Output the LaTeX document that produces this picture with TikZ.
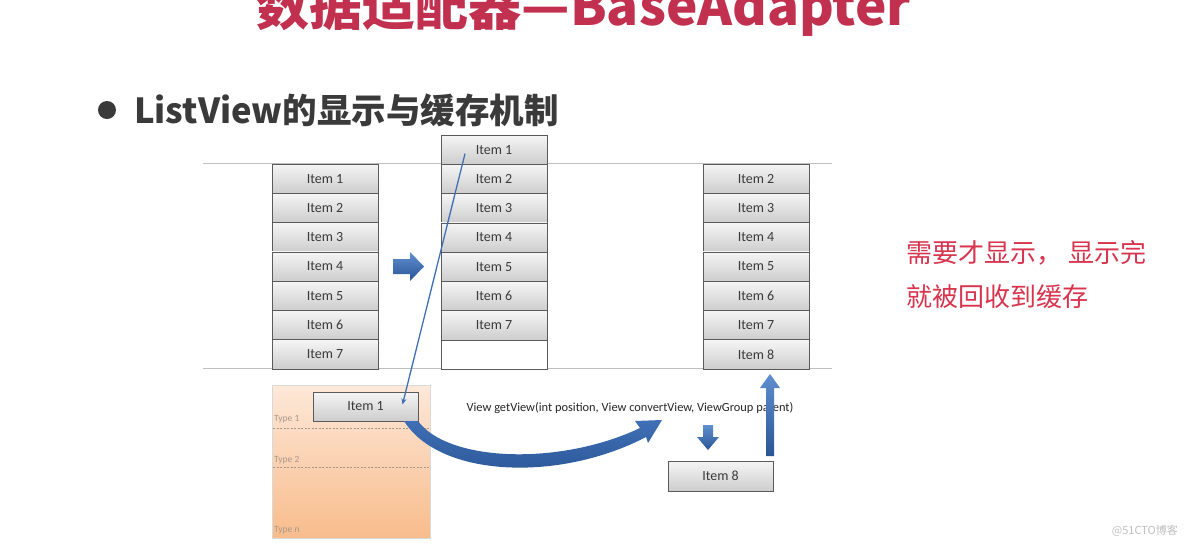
\documentclass[tikz,border=0pt]{standalone}
\usepackage{fontspec}
\setmainfont{Carlito}
\newfontfamily\cjk{Noto Sans CJK SC}
\usetikzlibrary{arrows.meta,calc}
\definecolor{titlered}{HTML}{C2304F}
\definecolor{notered}{HTML}{D8344E}
\definecolor{darktext}{HTML}{3A3A3A}
\definecolor{itemborder}{HTML}{5A5A5A}
\definecolor{itemtop}{HTML}{F5F5F5}
\definecolor{itembot}{HTML}{CDCDCD}
\definecolor{arrowblue}{HTML}{3F6FB5}
\definecolor{arrowlight}{HTML}{5F8FD0}
\definecolor{arrowdark}{HTML}{2A5595}
\definecolor{cachetop}{HTML}{FDE8D8}
\definecolor{cachebot}{HTML}{F8BC8C}
\definecolor{typegray}{HTML}{A89888}
\tikzset{
  itembox/.style={draw=itemborder, line width=0.8pt, top color=itemtop, bottom color=itembot,
    minimum width=106pt, minimum height=29.3pt, inner sep=0pt, font=\fontsize{14}{16}\selectfont, text=darktext},
  blankbox/.style={draw=itemborder, line width=0.8pt, fill=white, minimum width=106pt, minimum height=29.3pt, inner sep=0pt},
  rule/.style={draw=black!25, line width=0.9pt},
  typelabel/.style={anchor=west, inner sep=0pt, text=typegray, font=\fontsize{9.5}{11}\selectfont},
  fatarrow/.style={top color=arrowlight, bottom color=arrowdark, draw=none},
}
\begin{document}
\begin{tikzpicture}[x=1pt,y=-1pt]
\useasboundingbox[fill=white] (0,0) rectangle (1184,547);

% title
\node[text=titlered, font=\cjk\bfseries\fontsize{53}{58}\selectfont, inner sep=0pt] (title) at (584,8) {数据适配器—BaseAdapter};

% bullet heading
\fill[darktext] (107,110) circle (9);
\node[anchor=west, inner sep=0pt, text=darktext, font=\cjk\bfseries\fontsize{34.5}{38}\selectfont] (heading) at (134,110) {ListView的显示与缓存机制};

% window lines
\draw[rule] (203,163.5) coordinate (lt1) -- (832,163.5) coordinate (lt2);
\draw[rule] (203,368.5) coordinate (lb1) -- (832,368.5) coordinate (lb2);

% column 1
\foreach \i in {1,...,7}{
  \node[itembox] (a\i) at (325,{164+29.3*(\i-0.5)}) {Item \i};
}
% column 2
\foreach \i in {1,...,7}{
  \node[itembox] (b\i) at (494,{135+29.3*(\i-0.5)}) {Item \i};
}
\node[blankbox] (b8) at (494,{135+29.3*7.5}) {};
% column 3
\foreach \i in {2,...,8}{
  \node[itembox] (c\i) at (756,{164+29.3*(\i-1.5)}) {Item \i};
}

% right arrow between columns
\path[fatarrow] (393,259) -- (410,259) -- (410,252) -- (424,266.5) -- (410,281) -- (410,274) -- (393,274) -- cycle;

% recycle cache
\node[draw=black!15, top color=cachetop, bottom color=cachebot, minimum width=158pt, minimum height=153pt, inner sep=0pt] (cache) at (351,461.5) {};
\draw[typegray, dashed, dash pattern=on 2pt off 1.5pt, line width=0.6pt] (273,428) -- (429,428);
\draw[typegray, dashed, dash pattern=on 2pt off 1.5pt, line width=0.6pt] (273,467) -- (429,467);
\node[typelabel] (t1) at (274,419) {Type 1};
\node[typelabel] (t2) at (274,460) {Type 2};
\node[typelabel] (tn) at (274,530) {Type n};

\node[itembox, minimum width=105pt, minimum height=29pt] (r1) at (365.5,406.5) {Item 1};

% thin line: recycled item 1 goes to the cache
\coordinate (from1) at ($(b1.center)+(-29,4)$);
\coordinate (to1) at ($(r1.center)+(37,-2)$);
\draw[arrowblue, line width=1.3pt, -{Stealth[length=6pt,width=5pt]}] (from1) -- (to1);

% curved fat arrow from cache to getView
\path[top color=arrowblue, bottom color=arrowdark, draw=none] (404,421) .. controls (440,478) and (560,482) .. (646,437)
  -- (648,443) -- (662,420) -- (635,421) -- (640,428)
  .. controls (560,466) and (448,462) .. (418,421) -- cycle;

% getView label
\node[inner sep=0pt, text=black!85, font=\fontsize{12.4}{14}\selectfont] (getview) at (630,408) {View getView(int position, View convertView, ViewGroup parent)};

% item 8 new
\node[itembox, minimum width=105pt, minimum height=30pt] (n8) at (720.5,476) {Item 8};

% small down arrow
\path[fatarrow] (703,425) -- (713,425) -- (713,437) -- (719,437) -- (708,450) -- (697,437) -- (703,437) -- cycle;

% up arrow into column 3
\path[fatarrow] (766,456) -- (774,456) -- (774,388) -- (780,388) -- (770,374) -- (760,388) -- (766,388) -- cycle;

% red note
\node[anchor=west, inner sep=0pt, text=notered, font=\cjk\fontsize{26}{29}\selectfont] (note1) at (906,253) {需要才显示， 显示完};
\node[anchor=west, inner sep=0pt, text=notered, font=\cjk\fontsize{26}{29}\selectfont] (note2) at (906,297) {就被回收到缓存};

% watermark
\node[anchor=east, inner sep=0pt, text=black!25, font=\cjk\fontsize{11}{12}\selectfont] (wm) at (1178,531) {@51CTO博客};
\end{tikzpicture}
\end{document}
